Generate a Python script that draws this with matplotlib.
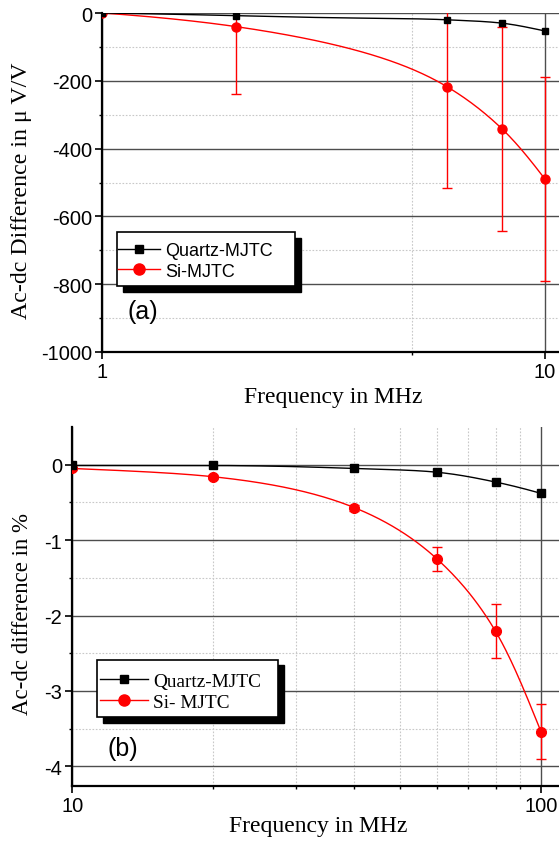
import numpy as np
import matplotlib
matplotlib.use("Agg")
import matplotlib.pyplot as plt
from matplotlib.lines import Line2D
from matplotlib.patches import Rectangle
from matplotlib.ticker import (FixedLocator, FixedFormatter, LogLocator,
                               MultipleLocator, NullFormatter)

plt.rcParams['font.family'] = ['Liberation Sans', 'DejaVu Sans']
plt.rcParams['axes.unicode_minus'] = False

# panel (a): 1-10 MHz, ac-dc difference in uV/V
freq_a = [1, 2, 6, 8, 10]
quartz_a = [0, -8, -20, -30, -53]
si_a = [0, -40, -217, -342, -490]
si_a_err = [0, 200, 300, 300, 300]

# panel (b): 10-100 MHz, ac-dc difference in %
freq_b = [10, 20, 40, 60, 80, 100]
quartz_b = [-0.01, -0.01, -0.05, -0.10, -0.23, -0.38]
si_b = [-0.05, -0.16, -0.57, -1.25, -2.21, -3.54]
si_b_err = [0.02, 0.03, 0.04, 0.16, 0.36, 0.36]

W, H = 559, 845


def fx(px):
    return px / W


def fy(py):
    return 1 - py / H


def smooth(x, y, n=40):
    # cubic hermite through the points (Origin style spline connect line)
    x = np.asarray(x, float)
    y = np.asarray(y, float)
    m = np.gradient(y, x)
    t = np.linspace(0, 1, n)
    h00 = 2 * t**3 - 3 * t**2 + 1
    h10 = t**3 - 2 * t**2 + t
    h01 = -2 * t**3 + 3 * t**2
    h11 = t**3 - t**2
    xs, ys = [], []
    for i in range(len(x) - 1):
        h = x[i + 1] - x[i]
        xs.append(x[i] + t * h)
        ys.append(h00 * y[i] + h10 * h * m[i] + h01 * y[i + 1] + h11 * h * m[i + 1])
    return np.concatenate(xs), np.concatenate(ys)


def style_axes(ax):
    ax.set_xscale('log')
    for s in ('top', 'right'):
        ax.spines[s].set_visible(False)
    for s in ('left', 'bottom'):
        ax.spines[s].set_linewidth(1.6)
    ax.tick_params(which='major', direction='out', length=5, width=1.2,
                   labelsize=14.5, pad=2.5)
    ax.tick_params(which='minor', direction='out', length=2.5, width=1.0)
    ax.grid(True, which='major', color='#4d4d4d', lw=1.0)
    ax.grid(True, which='minor', color='#c8c8c8', lw=0.8, ls=(0, (1.5, 1.5)))
    ax.set_axisbelow(True)


def add_legend(ax, fig, labels, box, shadow, anchor, font, handlelength, textpad):
    # box = (left, top, right, bottom) in pixels, shadow offset in pixels
    l, t, r, b = box
    ax.add_patch(Rectangle((fx(l + shadow), fy(b + shadow)), fx(r - l), (b - t) / H,
                           transform=fig.transFigure, facecolor='black',
                           edgecolor='black', clip_on=False, zorder=6))
    ax.add_patch(Rectangle((fx(l), fy(b)), fx(r - l), (b - t) / H,
                           transform=fig.transFigure, facecolor='white',
                           edgecolor='black', lw=1.2, clip_on=False, zorder=7))
    hq = Line2D([], [], color='black', lw=1, marker='s', ms=6)
    hs = Line2D([], [], color='red', lw=1, marker='o', ms=8)
    leg = ax.legend([hq, hs], labels, loc='upper left',
                    bbox_to_anchor=(fx(anchor[0]), fy(anchor[1])),
                    bbox_transform=fig.transFigure, borderaxespad=0, borderpad=0,
                    frameon=False, prop=font, handlelength=handlelength,
                    handletextpad=textpad, labelspacing=0.2)
    leg.set_zorder(8)


fig = plt.figure(figsize=(W / 100, H / 100), dpi=100)

# ---- panel (a)
ax1 = fig.add_axes([fx(102.3), fy(353), fx(W - 102.3), (353 - 14) / H])
style_axes(ax1)
ax1.errorbar(freq_a, si_a, yerr=si_a_err, fmt='none', ecolor='red',
             elinewidth=1, capsize=3.5, capthick=1, zorder=3)
ax1.plot(*smooth(freq_a, si_a), color='red', lw=1, zorder=3)
ax1.plot(freq_a, si_a, 'o', color='red', ms=6.5, zorder=4)
ax1.plot(*smooth(freq_a, quartz_a), color='black', lw=1, zorder=4)
ax1.plot(freq_a, quartz_a, 's', color='black', ms=5, zorder=5)
ax1.set_xlim(1, 10 ** (1 + (W - 545) / 442.7))
ax1.set_ylim(-1000, 0)
ax1.xaxis.set_major_locator(FixedLocator([1, 10]))
ax1.xaxis.set_major_formatter(FixedFormatter(['1', '10']))
ax1.xaxis.set_minor_locator(FixedLocator([5]))
ax1.xaxis.set_minor_formatter(NullFormatter())
ax1.yaxis.set_major_locator(MultipleLocator(200))
ax1.yaxis.set_minor_locator(MultipleLocator(100))
ax1.set_xlabel('Frequency in MHz', family='Liberation Serif', fontsize=17, va='center')
ax1.xaxis.set_label_coords(0.505, -0.13)
ax1.set_ylabel('Ac-dc Difference in \u03bc V/V', family='Liberation Serif',
               fontsize=17.2, va='center')
ax1.yaxis.set_label_coords(-0.178, 0.478)
add_legend(ax1, fig, ['Quartz-MJTC', 'Si-MJTC'], (116.7, 233.3, 295, 286.7), 6,
           (118, 243), {'family': 'Liberation Sans', 'size': 13}, 2.33, 0.28)
fig.text(fx(143), fy(312), '(a)', ha='center', va='center', fontsize=18)

# ---- panel (b)
ax2 = fig.add_axes([fx(72.3), fy(786.7), fx(W - 72.3), (786.7 - 428.3) / H])
style_axes(ax2)
ax2.errorbar(freq_b, si_b, yerr=si_b_err, fmt='none', ecolor='red',
             elinewidth=1, capsize=3.5, capthick=1, zorder=3)
ax2.plot(*smooth(freq_b, si_b), color='red', lw=1, zorder=3)
ax2.plot(freq_b, si_b, 'o', color='red', ms=7, zorder=4)
ax2.plot(*smooth(freq_b, quartz_b), color='black', lw=1, zorder=4)
ax2.plot(freq_b, quartz_b, 's', color='black', ms=5.5, zorder=5)
ax2.set_xlim(10, 10 ** (2 + (W - 541) / 468.7))
ax2.set_ylim(-4.257, 0.496)
ax2.xaxis.set_major_locator(FixedLocator([10, 100]))
ax2.xaxis.set_major_formatter(FixedFormatter(['10', '100']))
ax2.xaxis.set_minor_locator(LogLocator(base=10, subs=np.arange(2, 10)))
ax2.xaxis.set_minor_formatter(NullFormatter())
ax2.yaxis.set_major_locator(MultipleLocator(1))
ax2.yaxis.set_minor_locator(MultipleLocator(0.5))
ax2.set_xlabel('Frequency in MHz', family='Liberation Serif', fontsize=17, va='center')
ax2.xaxis.set_label_coords(0.505, -0.1124)
ax2.set_ylabel('Ac-dc difference in %', family='Liberation Serif',
               fontsize=16.5, va='center')
ax2.yaxis.set_label_coords(-0.1033, 0.482)
add_legend(ax2, fig, ['Quartz-MJTC', 'Si- MJTC'], (97.3, 660.7, 278.3, 718.3), 5.5,
           (100, 673), {'family': 'Liberation Serif', 'size': 13.9}, 2.49, 0.27)
fig.text(fx(123), fy(749), '(b)', ha='center', va='center', fontsize=18)

fig.savefig('out.png', dpi=100)
